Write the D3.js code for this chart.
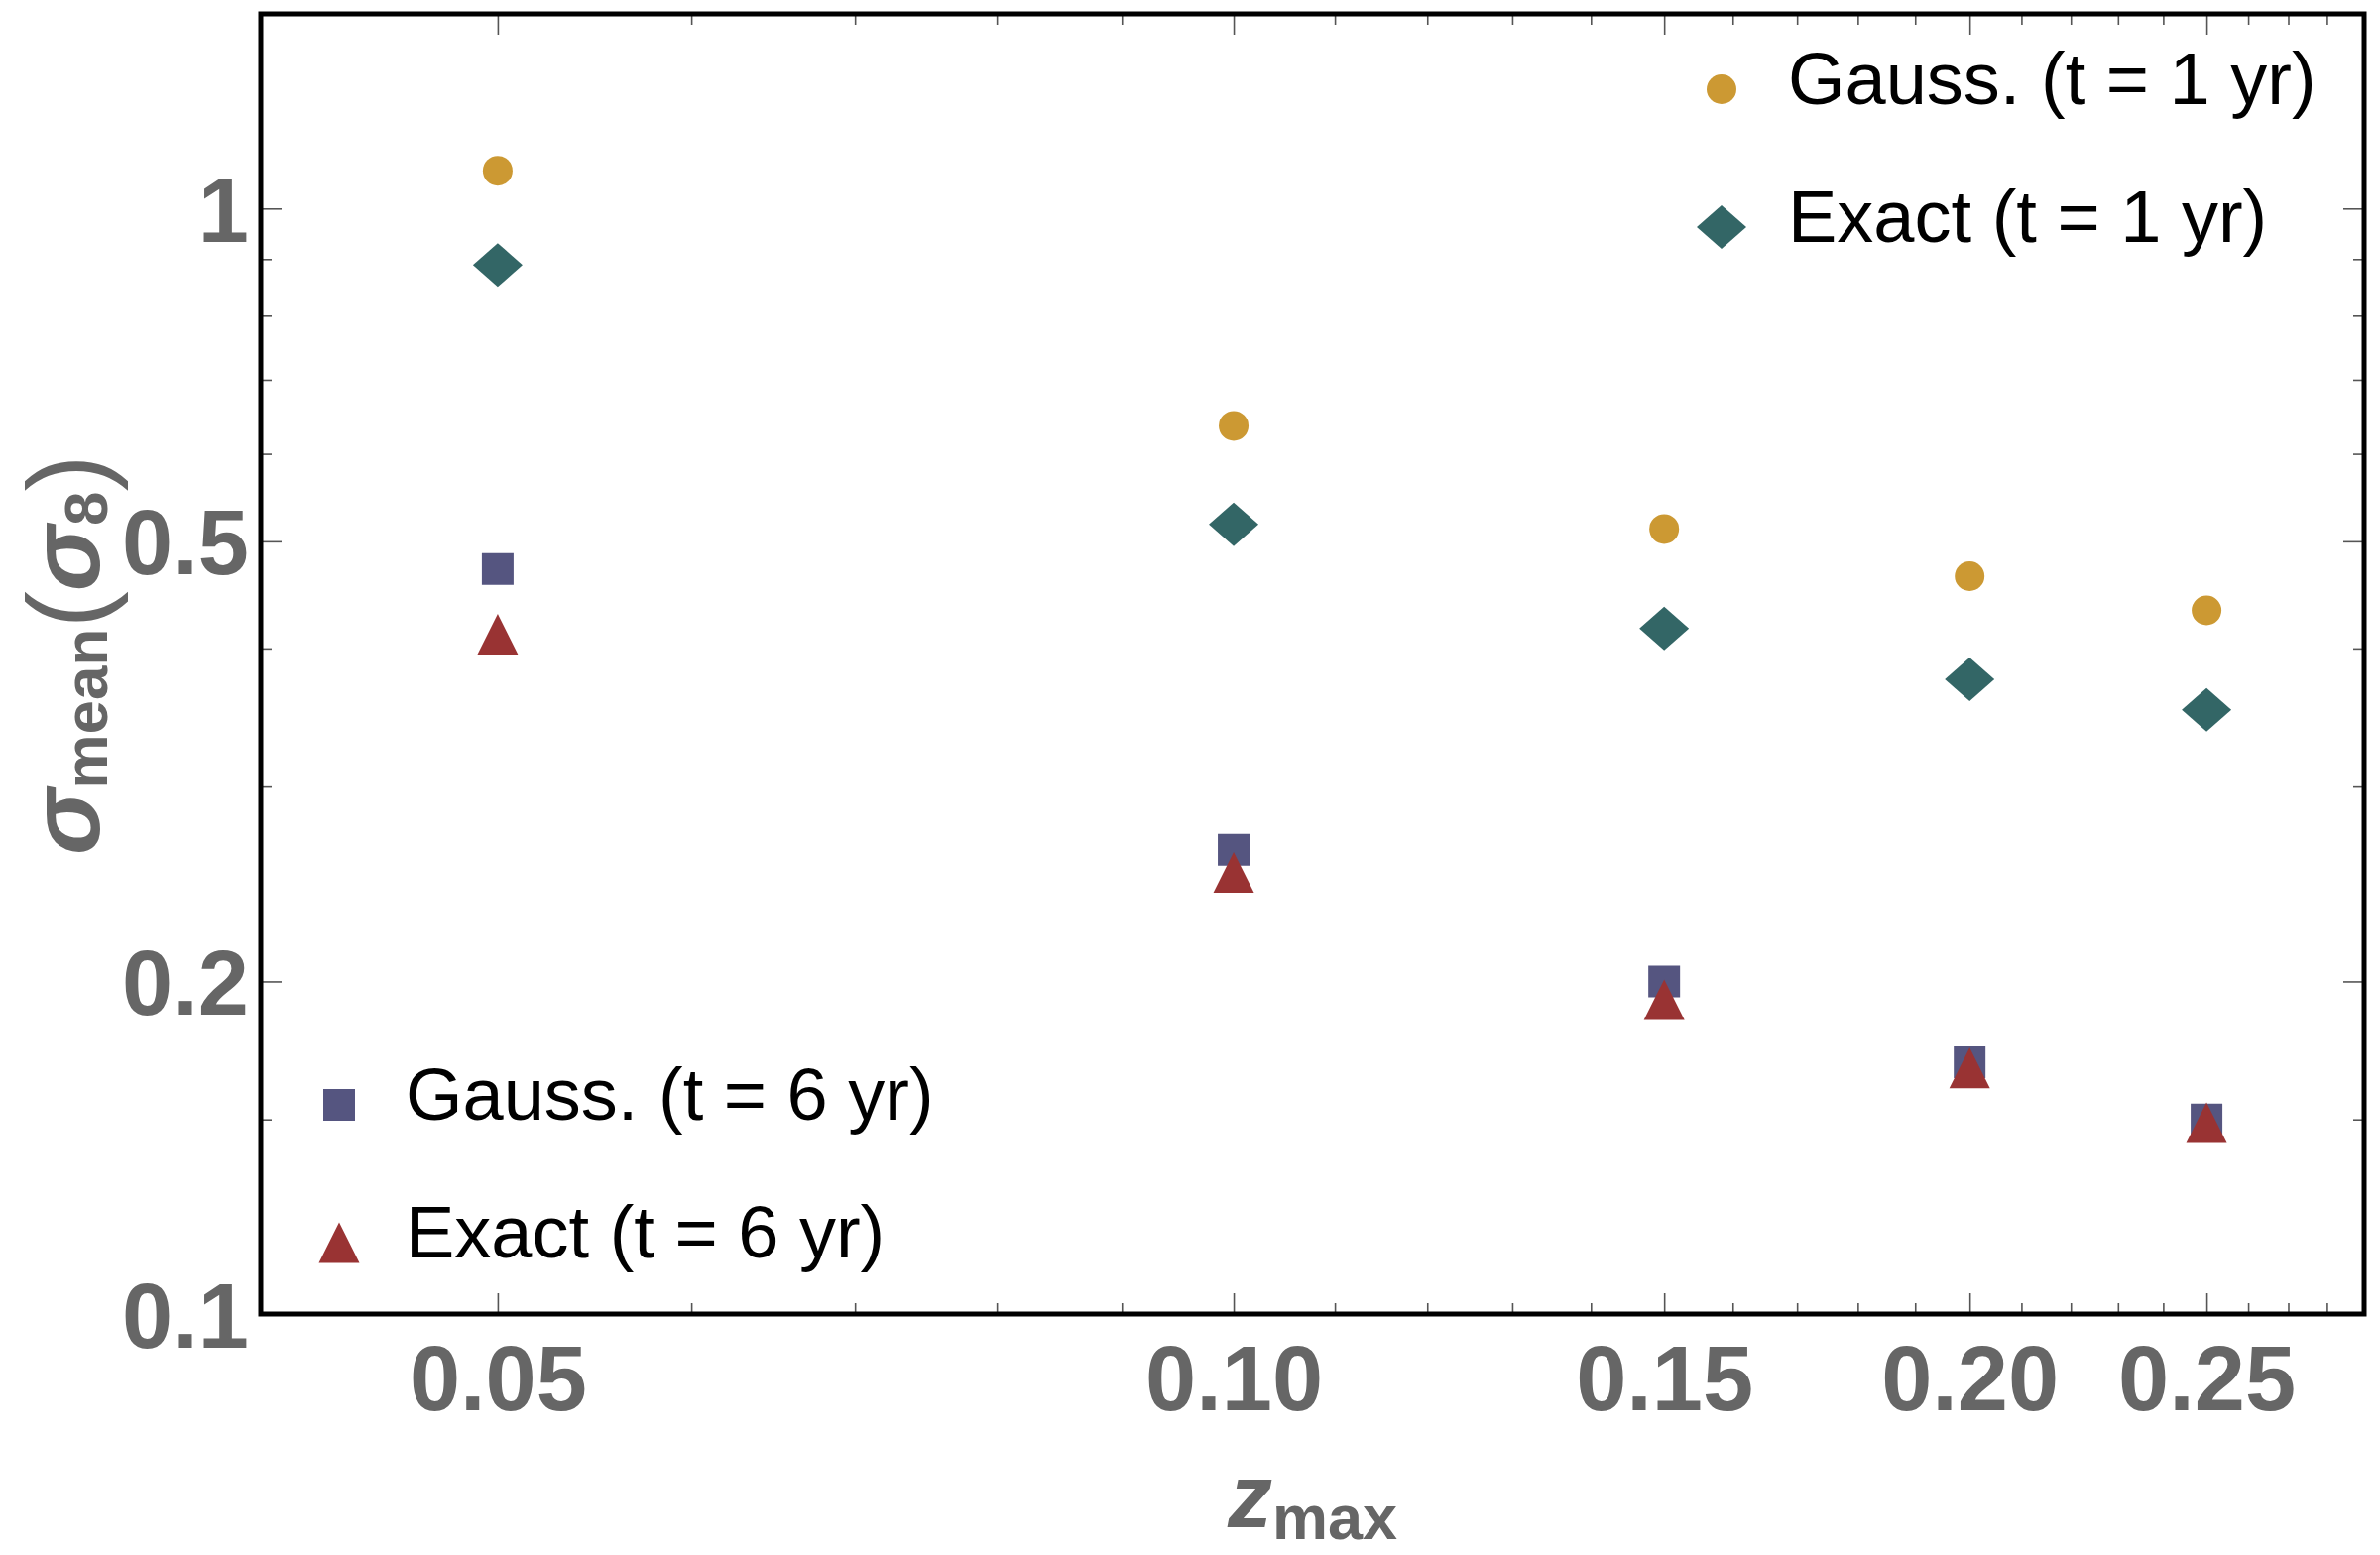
<!DOCTYPE html>
<html>
<head>
<meta charset="utf-8">
<script src="https://cdn.jsdelivr.net/npm/d3@7"></script>
<style>
  body { margin: 0; background: #fff; }
  .axis text { font-family: 'Liberation Sans', Arial, sans-serif; font-weight: bold; font-size: 92px; fill: #666; }
  .axis line { stroke: #555; stroke-width: 1.6; }
  .legend text { font-family: 'Liberation Sans', Arial, sans-serif; font-size: 74px; fill: #000; }
  .axis-label { font-family: 'Liberation Sans', Arial, sans-serif; font-weight: bold; fill: #666; }
</style>
</head>
<body>
<div id="chart"></div>
<script>
// data
const zmax = [0.05, 0.10, 0.15, 0.20, 0.25];
const gauss1yr = [1.082, 0.636, 0.513, 0.465, 0.433];
const exact1yr = [0.889, 0.518, 0.417, 0.375, 0.352];
const gauss6yr = [0.472, 0.263, 0.200, 0.169, 0.150];
const exact6yr = [0.412, 0.251, 0.1925, 0.167, 0.149];

const seriesNames = ['Gauss. (t = 1 yr)', 'Exact (t = 1 yr)', 'Gauss. (t = 6 yr)', 'Exact (t = 6 yr)'];

const xMajorTicks = [0.05, 0.10, 0.15, 0.20, 0.25];
const xTickLabels = ['0.05', '0.10', '0.15', '0.20', '0.25'];
const xMinorTicks = [0.06, 0.07, 0.08, 0.09, 0.11, 0.12, 0.13, 0.14, 0.16, 0.17, 0.18, 0.19,
                     0.21, 0.22, 0.23, 0.24, 0.26, 0.27, 0.28];
const yMajorTicks = [0.1, 0.2, 0.5, 1];
const yTickLabels = ['0.1', '0.2', '0.5', '1'];
const yMinorTicks = [0.15, 0.3, 0.4, 0.6, 0.7, 0.8, 0.9];

const W = 2400, H = 1568;
const margin = { top: 14, right: 16, bottom: 243, left: 263 };
const width = W - margin.left - margin.right;
const height = H - margin.top - margin.bottom;

const svg = d3.select('#chart').append('svg')
    .attr('width', W)
    .attr('height', H);

const g = svg.append('g')
    .attr('transform', `translate(${margin.left},${margin.top})`);

const xScale = d3.scaleLog().domain([0.04, 0.29]).range([0, width]);
const yScale = d3.scaleLog().domain([0.1, 1.5]).range([height, 0]);

const noLabel = () => '';

// ticks on all four sides, pointing inwards
function addAxis(axis, tx, ty) {
    const a = g.append('g')
        .attr('class', 'axis')
        .attr('transform', `translate(${tx},${ty})`)
        .call(axis);
    a.select('.domain').remove();
    return a;
}

addAxis(d3.axisBottom(xScale).tickValues(xMajorTicks).tickFormat((d, i) => xTickLabels[i])
    .tickSize(-21).tickPadding(32), 0, height);
addAxis(d3.axisBottom(xScale).tickValues(xMinorTicks).tickFormat(noLabel).tickSize(-11), 0, height);
addAxis(d3.axisTop(xScale).tickValues(xMajorTicks).tickFormat(noLabel).tickSize(-21), 0, 0);
addAxis(d3.axisTop(xScale).tickValues(xMinorTicks).tickFormat(noLabel).tickSize(-11), 0, 0);

const yAx = addAxis(d3.axisLeft(yScale).tickValues(yMajorTicks).tickFormat((d, i) => yTickLabels[i])
    .tickSize(-21).tickPadding(12), 0, 0);
yAx.selectAll('text').attr('dy', '0.36em');
addAxis(d3.axisLeft(yScale).tickValues(yMinorTicks).tickFormat(noLabel).tickSize(-11), 0, 0);
addAxis(d3.axisRight(yScale).tickValues(yMajorTicks).tickFormat(noLabel).tickSize(-21), width, 0);
addAxis(d3.axisRight(yScale).tickValues(yMinorTicks).tickFormat(noLabel).tickSize(-11), width, 0);

// frame
g.append('rect')
    .attr('width', width)
    .attr('height', height)
    .attr('fill', 'none')
    .attr('stroke', '#000')
    .attr('stroke-width', 5);

// marker shapes
function markerPath(shape) {
    if (shape === 'circle') {
        const r = 15;
        return `M${-r},0A${r},${r} 0 1,0 ${r},0A${r},${r} 0 1,0 ${-r},0Z`;
    }
    if (shape === 'diamond') return 'M0,-22L25,0L0,22L-25,0Z';
    if (shape === 'square') return 'M-16,-16H16V16H-16Z';
    return 'M0,-20.5L20.5,20.5H-20.5Z';
}

const series = [
    { name: seriesNames[0], values: gauss1yr, shape: 'circle', color: '#CC9933' },
    { name: seriesNames[1], values: exact1yr, shape: 'diamond', color: '#336666' },
    { name: seriesNames[2], values: gauss6yr, shape: 'square', color: '#555580' },
    { name: seriesNames[3], values: exact6yr, shape: 'triangle', color: '#993333' }
];

series.forEach(s => {
    g.selectAll(null)
        .data(s.values.map((v, i) => ({ x: zmax[i], y: v })))
        .enter()
        .append('path')
        .attr('class', 'point')
        .attr('d', markerPath(s.shape))
        .attr('transform', d => `translate(${xScale(d.x)},${yScale(d.y)})`)
        .attr('fill', s.color);
});

// legends
const legendTop = svg.append('g').attr('class', 'legend').attr('transform', 'translate(1736,105)');
const legendBottom = svg.append('g').attr('class', 'legend').attr('transform', 'translate(342,1129)');

series.forEach((s, i) => {
    const parent = i < 2 ? legendTop : legendBottom;
    const item = parent.append('g').attr('transform', `translate(0,${(i % 2) * 139})`);
    item.append('path')
        .attr('d', markerPath(s.shape))
        .attr('transform', 'translate(0,-15)')
        .attr('fill', s.color);
    item.append('text')
        .attr('x', 67)
        .attr('y', 0)
        .text(s.name);
});

// x-axis title
const xTitle = svg.append('text')
    .attr('class', 'axis-label')
    .attr('x', margin.left + width / 2)
    .attr('y', 1540)
    .attr('text-anchor', 'middle');
xTitle.append('tspan').style('font-style', 'italic').style('font-size', '90px').text('z');
xTitle.append('tspan').style('font-size', '63px').attr('dy', 12).text('max');

// y-axis title
const yTitle = svg.append('text')
    .attr('class', 'axis-label')
    .attr('transform', `translate(100,${660}) rotate(-90)`)
    .attr('text-anchor', 'middle');
yTitle.append('tspan').style('font-style', 'italic').style('font-size', '100px').text('σ');
yTitle.append('tspan').style('font-size', '62px').attr('dy', 8).text('mean');
yTitle.append('tspan').style('font-size', '112px').style('font-weight', 'normal').attr('dy', -2).text('(');
yTitle.append('tspan').style('font-style', 'italic').style('font-size', '100px').attr('dy', -6).text('σ');
yTitle.append('tspan').style('font-size', '62px').attr('dy', 8).text('8');
yTitle.append('tspan').style('font-size', '112px').style('font-weight', 'normal').attr('dy', -2).text(')');
</script>
</body>
</html>
